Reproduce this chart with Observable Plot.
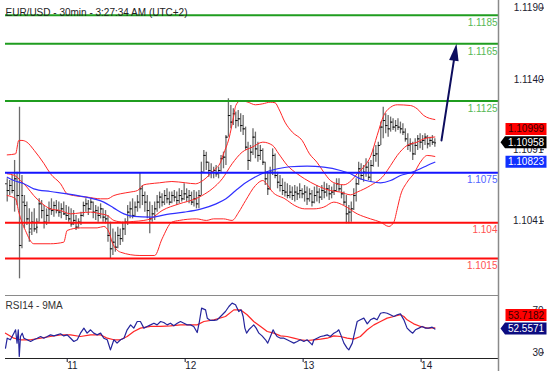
<!DOCTYPE html>
<html><head><meta charset="utf-8">
<script src="https://cdn.jsdelivr.net/npm/d3@7"></script>
<script src="https://cdn.jsdelivr.net/npm/@observablehq/plot@0.6"></script>
<style>
html,body{margin:0;padding:0;background:#fff;}
#chart{position:relative;width:554px;height:371px;overflow:hidden;font-family:"Liberation Sans",Arial,sans-serif;}
#chart svg{position:absolute;left:0;overflow:visible;}
</style></head><body><div id="chart"></div>
<script>
// ---------- DATA ----------
const title = "EUR/USD - 30min - 3:27:34 AM (UTC+2)";
const rsiTitle = "RSI14 - 9MA";
// 30-min bars, index 0 = 10th 12:00 ... 174 = 14th 03:00
const high = [1.10707,1.10695,1.10730,1.10835,1.10753,1.11207,1.10730,1.10590,1.10544,1.10497,
1.10474,1.10497,1.10427,1.10567,1.10555,1.10520,1.10497,1.10544,1.10567,1.10544,
1.10555,1.10544,1.10532,1.10544,1.10520,1.10509,1.10497,1.10485,1.10451,1.10427,
1.10474,1.10544,1.10567,1.10555,1.10567,1.10544,1.10520,1.10509,1.10532,1.10497,
1.10485,1.10451,1.10404,1.10357,1.10334,1.10369,1.10357,1.10404,1.10427,1.10520,
1.10544,1.10567,1.10544,1.10590,1.10749,1.10660,1.10614,1.10590,1.10544,1.10520,
1.10544,1.10590,1.10614,1.10602,1.10625,1.10637,1.10614,1.10614,1.10625,1.10614,
1.10637,1.10625,1.10672,1.10637,1.10625,1.10614,1.10625,1.10614,1.10625,1.10823,
1.10905,1.10893,1.10823,1.10812,1.10788,1.10800,1.10788,1.10870,1.10893,1.11009,
1.11266,1.11219,1.11196,1.11173,1.11184,1.11161,1.11149,1.11068,1.10963,1.10940,
1.11056,1.11033,1.10963,1.10940,1.10916,1.10823,1.10753,1.10788,1.10916,1.10881,
1.10753,1.10730,1.10707,1.10683,1.10672,1.10660,1.10649,1.10660,1.10649,1.10672,
1.10637,1.10660,1.10649,1.10637,1.10625,1.10649,1.10660,1.10637,1.10660,1.10683,
1.10672,1.10660,1.10649,1.10672,1.10707,1.10707,1.10660,1.10614,1.10590,1.10520,
1.10544,1.10637,1.10707,1.10823,1.10812,1.10800,1.10847,1.10823,1.10835,1.10916,
1.10940,1.10963,1.11103,1.11207,1.11161,1.11149,1.11138,1.11126,1.11114,1.11126,
1.11103,1.11091,1.11056,1.11021,1.10986,1.10963,1.10986,1.11009,1.11021,1.11009,
1.11021,1.11009,1.10998,1.11009,1.10986];
const low = [1.10544,1.10590,1.10602,1.10474,1.10520,1.10008,1.10218,1.10357,1.10381,1.10264,
1.10311,1.10334,1.10323,1.10404,1.10427,1.10357,1.10381,1.10404,1.10451,1.10439,
1.10462,1.10439,1.10427,1.10451,1.10416,1.10404,1.10369,1.10381,1.10346,1.10357,
1.10381,1.10439,1.10474,1.10451,1.10485,1.10427,1.10416,1.10404,1.10427,1.10404,
1.10392,1.10264,1.10148,1.10171,1.10194,1.10218,1.10241,1.10264,1.10311,1.10381,
1.10427,1.10427,1.10439,1.10474,1.10497,1.10520,1.10474,1.10427,1.10323,1.10404,
1.10416,1.10474,1.10497,1.10509,1.10520,1.10532,1.10520,1.10532,1.10544,1.10520,
1.10532,1.10544,1.10555,1.10544,1.10532,1.10520,1.10509,1.10497,1.10497,1.10590,
1.10753,1.10765,1.10718,1.10707,1.10707,1.10718,1.10707,1.10753,1.10777,1.10800,
1.10998,1.11056,1.11079,1.11056,1.11068,1.11033,1.11009,1.10905,1.10765,1.10823,
1.10870,1.10847,1.10823,1.10835,1.10800,1.10660,1.10590,1.10625,1.10730,1.10707,
1.10637,1.10614,1.10590,1.10579,1.10567,1.10567,1.10555,1.10544,1.10555,1.10567,
1.10567,1.10544,1.10520,1.10544,1.10509,1.10532,1.10544,1.10532,1.10555,1.10567,
1.10579,1.10555,1.10567,1.10590,1.10614,1.10614,1.10567,1.10520,1.10392,1.10392,
1.10404,1.10485,1.10544,1.10660,1.10695,1.10683,1.10718,1.10695,1.10683,1.10788,
1.10823,1.10788,1.10940,1.10986,1.11021,1.10998,1.11033,1.11044,1.11033,1.11044,
1.11021,1.11009,1.10963,1.10905,1.10893,1.10835,1.10870,1.10905,1.10916,1.10905,
1.10940,1.10916,1.10928,1.10940,1.10928];
const open = [1.10672,1.10625,1.10660,1.10625,1.10707,1.10590,1.10241,1.10544,1.10520,1.10427,
1.10357,1.10404,1.10357,1.10404,1.10532,1.10485,1.10404,1.10451,1.10497,1.10485,
1.10520,1.10485,1.10474,1.10497,1.10462,1.10451,1.10427,1.10392,1.10416,1.10369,
1.10404,1.10451,1.10520,1.10532,1.10497,1.10544,1.10474,1.10485,1.10451,1.10497,
1.10439,1.10427,1.10311,1.10218,1.10264,1.10229,1.10311,1.10289,1.10357,1.10404,
1.10474,1.10497,1.10451,1.10509,1.10544,1.10637,1.10590,1.10544,1.10485,1.10427,
1.10462,1.10497,1.10544,1.10579,1.10544,1.10590,1.10567,1.10544,1.10590,1.10579,
1.10555,1.10590,1.10567,1.10602,1.10579,1.10590,1.10544,1.10567,1.10532,1.10590,
1.10753,1.10870,1.10823,1.10765,1.10753,1.10765,1.10742,1.10765,1.10847,1.10858,
1.10998,1.11149,1.11103,1.11161,1.11114,1.11126,1.11079,1.11056,1.10928,1.10835,
1.10893,1.10998,1.10916,1.10870,1.10905,1.10823,1.10707,1.10637,1.10753,1.10870,
1.10730,1.10683,1.10660,1.10625,1.10614,1.10590,1.10614,1.10590,1.10614,1.10602,
1.10625,1.10602,1.10614,1.10567,1.10602,1.10544,1.10590,1.10614,1.10579,1.10625,
1.10614,1.10637,1.10602,1.10614,1.10625,1.10672,1.10637,1.10602,1.10544,1.10462,
1.10474,1.10497,1.10590,1.10672,1.10777,1.10730,1.10753,1.10788,1.10718,1.10800,
1.10870,1.10881,1.10940,1.11068,1.11114,1.11079,1.11056,1.11103,1.11068,1.11079,
1.11068,1.11056,1.11033,1.10986,1.10940,1.10951,1.10881,1.10940,1.10986,1.10963,
1.10975,1.10998,1.10951,1.10975,1.10963];
const close = [1.10625,1.10660,1.10625,1.10707,1.10590,1.10241,1.10590,1.10520,1.10427,1.10334,
1.10404,1.10357,1.10369,1.10532,1.10485,1.10404,1.10451,1.10497,1.10485,1.10520,
1.10485,1.10474,1.10497,1.10462,1.10451,1.10427,1.10392,1.10416,1.10369,1.10404,
1.10451,1.10520,1.10532,1.10497,1.10544,1.10474,1.10485,1.10451,1.10497,1.10439,
1.10427,1.10311,1.10218,1.10264,1.10229,1.10311,1.10289,1.10357,1.10404,1.10474,
1.10497,1.10451,1.10509,1.10544,1.10637,1.10590,1.10544,1.10485,1.10427,1.10462,
1.10497,1.10544,1.10579,1.10544,1.10590,1.10567,1.10544,1.10590,1.10579,1.10555,
1.10590,1.10567,1.10602,1.10579,1.10590,1.10544,1.10567,1.10532,1.10590,1.10753,
1.10870,1.10823,1.10765,1.10753,1.10765,1.10742,1.10765,1.10847,1.10858,1.10998,
1.11149,1.11103,1.11161,1.11114,1.11126,1.11079,1.11056,1.10928,1.10835,1.10893,
1.10998,1.10916,1.10870,1.10905,1.10823,1.10707,1.10637,1.10753,1.10870,1.10730,
1.10683,1.10660,1.10625,1.10614,1.10590,1.10614,1.10590,1.10614,1.10602,1.10625,
1.10602,1.10614,1.10567,1.10602,1.10544,1.10590,1.10614,1.10579,1.10625,1.10614,
1.10637,1.10602,1.10614,1.10625,1.10672,1.10637,1.10602,1.10544,1.10462,1.10474,
1.10497,1.10590,1.10672,1.10777,1.10730,1.10753,1.10788,1.10718,1.10800,1.10870,
1.10881,1.10940,1.11068,1.11114,1.11079,1.11056,1.11103,1.11068,1.11079,1.11068,
1.11056,1.11033,1.10986,1.10940,1.10951,1.10881,1.10940,1.10986,1.10963,1.10975,
1.10998,1.10951,1.10975,1.10963,1.10958];

// Bollinger bands and moving average as [bar index, price]
const upperBand = [[0,1.10874],[3.4,1.10881],[4.7,1.10975],[6,1.10975],[8,1.10963],[11,1.10905],[15,1.10812],[17.6,1.10742],[21.7,1.10672],[24.4,1.10602],[27,1.10590],[32.5,1.10579],[38,1.10567],[40.7,1.10567],[43.4,1.10590],[46,1.10602],[50,1.10614],[53,1.10625],[55.6,1.10665],[58,1.10672],[62,1.10679],[67,1.10688],[72.5,1.10679],[76.6,1.10672],[79,1.10688],[82,1.10730],[84,1.10765],[86.8,1.10823],[88,1.10881],[90.2,1.10986],[92.2,1.11149],[93,1.11219],[95,1.11254],[98,1.11242],[101,1.11224],[104,1.11231],[107,1.11242],[109,1.11238],[110.5,1.11196],[113,1.11103],[116,1.11033],[120,1.10975],[123,1.10881],[126,1.10823],[128.8,1.10753],[131.5,1.10695],[134.2,1.10672],[137,1.10665],[140,1.10695],[142.4,1.10742],[145,1.10788],[148,1.10870],[150.5,1.11009],[153.2,1.11149],[156,1.11207],[158.7,1.11224],[164,1.11219],[166.8,1.11196],[169.5,1.11149],[174,1.11121]];
const middleBand = [[0,1.10742],[3,1.10730],[5.4,1.10695],[8,1.10649],[10.8,1.10590],[13.5,1.10544],[17.6,1.10497],[21.7,1.10485],[25.8,1.10462],[29.8,1.10469],[33.9,1.10474],[38,1.10462],[40.7,1.10451],[43.4,1.10416],[47.5,1.10404],[51.5,1.10409],[55.6,1.10416],[58.3,1.10427],[63,1.10485],[70,1.10532],[76.6,1.10567],[79.3,1.10590],[83.4,1.10637],[87.5,1.10707],[91.5,1.10812],[95.6,1.10893],[99.7,1.10928],[104,1.10963],[108,1.10940],[110.5,1.10881],[114,1.10800],[118,1.10742],[121,1.10707],[126,1.10660],[131.5,1.10625],[135.6,1.10614],[139.7,1.10595],[142.4,1.10614],[147.8,1.10660],[153.2,1.10730],[156,1.10800],[158.7,1.10870],[162.7,1.10940],[166.8,1.10963],[169.5,1.10986],[174,1.10999]];
const lowerBand = [[0,1.10590],[3.4,1.10567],[4.7,1.10474],[7.4,1.10346],[10.8,1.10253],[17.6,1.10253],[23,1.10264],[24.4,1.10346],[29.8,1.10364],[36.6,1.10364],[39.3,1.10374],[41.4,1.10334],[42.7,1.10264],[46.1,1.10194],[54,1.10171],[60,1.10171],[63,1.10287],[67,1.10404],[70,1.10416],[77,1.10427],[81,1.10416],[84,1.10427],[88,1.10427],[91.5,1.10416],[94.2,1.10474],[97,1.10555],[101,1.10660],[104,1.10695],[105.5,1.10672],[108,1.10614],[113,1.10567],[117,1.10520],[121,1.10497],[124.8,1.10497],[128.8,1.10509],[132.9,1.10544],[137,1.10520],[142.4,1.10462],[147.8,1.10427],[151.9,1.10404],[155.3,1.10374],[157.3,1.10404],[158.7,1.10497],[160,1.10590],[162.7,1.10683],[165.4,1.10742],[168.1,1.10823],[170.9,1.10870],[174,1.10863]];
const movingAvg = [[0,1.10718],[2.7,1.10695],[6.8,1.10672],[10.8,1.10637],[17.6,1.10618],[24.4,1.10602],[29.8,1.10586],[35.2,1.10567],[39.3,1.10544],[43.4,1.10502],[47.5,1.10462],[51.5,1.10444],[58.3,1.10439],[65,1.10458],[72,1.10474],[79,1.10497],[85,1.10532],[89,1.10567],[93,1.10625],[97,1.10679],[100,1.10711],[105,1.10753],[110,1.10777],[115,1.10791],[122,1.10795],[128.8,1.10788],[135.6,1.10765],[139.7,1.10742],[143.7,1.10707],[147.8,1.10688],[151.9,1.10679],[156,1.10695],[160,1.10730],[164.1,1.10749],[168.1,1.10777],[170.9,1.10800],[174,1.10823]];

// horizontal levels
const levelValues = [1.1185, 1.1165, 1.1125, 1.1075, 1.104, 1.1015];
const levelLabels = ["1.1185", "1.1165", "1.1125", "1.1075", "1.104", "1.1015"];
const levelKinds = ["resistance", "resistance", "resistance", "pivot", "support", "support"];

// projection arrow [bar index, price]
const arrowFrom = [176.7, 1.10975];
const arrowTo = [182.8, 1.1165];

// axis ticks
const priceTicks = [1.1041, 1.1091, 1.1140, 1.1190];
const dayTickIdx = [24, 72, 120, 168];
const dayLabels = ["11", "12", "13", "14"];
const rsiTicks = [30, 70];

// current values (right-hand tags)
const lastClose = 1.10958, lastMiddle = 1.10999, lastMA = 1.10823;
const lastRsi = 52.5571, lastRsiMa = 53.7182;

// RSI14 and its 9MA, [bar index, value]
const rsiLine = [[-0.7,34.4],[0,43.9],[1.3,42.4],[2.7,48.7],[3.4,51.9],[4.0,39.2],[4.5,51.9],[4.9,26.5],[5.4,45.5],[6.1,48.7],[6.8,43.9],[8.1,42.4],[9.5,40.8],[10.8,42.4],[12.2,43.9],[13.6,45.5],[14.9,43.9],[16.3,45.5],[17.6,47.1],[19.0,46.1],[20.3,47.1],[21.7,48.1],[23.0,46.1],[24.4,47.1],[25.8,43.9],[27.1,40.8],[28.5,42.4],[29.8,48.7],[31.2,53.5],[32.5,48.7],[33.9,51.9],[35.2,48.7],[36.6,47.1],[38.0,48.7],[39.3,43.9],[40.7,42.4],[42.0,32.8],[43.4,42.4],[44.7,39.2],[46.1,42.4],[47.5,43.9],[48.8,51.9],[50.2,56.6],[51.5,53.5],[52.9,59.8],[54.2,59.8],[55.6,53.5],[56.9,55.1],[58.3,56.6],[59.7,58.2],[61.0,56.6],[62.4,59.8],[63.7,58.9],[65.1,56.6],[66.4,58.2],[67.8,55.7],[69.2,58.2],[70.5,59.8],[71.9,58.2],[73.2,56.6],[74.6,56.6],[75.9,55.1],[77.3,49.3],[78.2,59.8],[79.1,72.5],[80.7,70.9],[81.4,63.0],[82.7,60.8],[84.1,60.8],[85.4,61.4],[86.8,64.6],[88.1,67.7],[88.8,69.3],[90.2,74.1],[91.5,77.3],[92.9,75.7],[94.2,69.3],[95.2,70.9],[96.0,64.6],[96.7,53.5],[97.4,48.7],[98.3,51.9],[99.7,55.1],[100.3,56.6],[101.3,53.5],[102.4,48.7],[103.7,46.1],[105.1,42.4],[106.0,39.2],[107.1,45.5],[108.2,51.9],[108.9,48.7],[109.8,45.5],[111.2,43.9],[112.6,43.9],[113.9,42.4],[115.3,40.8],[116.6,39.2],[118.0,40.8],[119.3,42.4],[120.7,40.8],[122.0,42.4],[123.4,39.2],[124.1,37.6],[124.8,42.4],[126.1,43.9],[127.5,45.5],[128.8,46.1],[130.2,47.1],[131.5,45.5],[132.9,48.7],[134.2,50.3],[134.9,51.9],[135.9,46.1],[137.0,39.2],[138.3,34.4],[139.0,32.8],[140.4,39.2],[141.3,48.7],[142.4,59.8],[143.7,61.4],[145.1,63.0],[146.5,57.6],[147.8,61.4],[149.2,63.0],[150.5,61.4],[151.9,67.7],[153.2,68.4],[154.6,67.7],[155.9,66.2],[157.3,64.6],[158.7,66.2],[160.0,67.1],[161.4,61.4],[162.7,53.5],[164.1,50.3],[165.0,48.7],[166.1,51.9],[167.5,53.5],[168.8,55.1],[170.2,53.5],[171.5,53.5],[172.9,54.4],[174.0,52.56]];
const rsiMaLine = [[-0.7,48.7],[2.7,43.9],[5.4,42.4],[9.5,42.4],[13.6,43.9],[17.6,45.5],[21.7,47.1],[25.8,47.1],[29.8,45.5],[33.9,47.1],[38.0,47.1],[40.7,43.9],[43.4,42.4],[46.1,42.4],[48.8,45.5],[51.5,50.3],[54.2,53.5],[58.3,55.1],[62.4,55.1],[66.4,55.7],[70.5,56.6],[74.6,56.6],[77.3,56.6],[80.0,59.8],[84.1,61.4],[88.8,64.6],[92.2,70.9],[94.9,70.9],[97.6,66.2],[100.3,59.8],[103.1,55.1],[105.8,50.3],[108.5,48.7],[111.2,46.1],[113.9,45.5],[116.6,43.9],[119.3,42.4],[122.0,41.7],[124.8,42.4],[127.5,43.0],[130.2,43.9],[132.9,46.1],[135.6,45.5],[138.3,43.9],[141.0,43.0],[143.7,45.5],[146.5,51.9],[149.2,56.6],[151.9,59.8],[154.6,63.0],[157.3,64.6],[160.0,66.2],[161.4,64.6],[162.7,61.4],[165.4,57.6],[168.2,55.1],[170.9,53.5],[174.0,53.72]];

// ---------- LAYOUT / STYLE ----------
const FONT = "'Liberation Sans', Arial, sans-serif";
const xDomain = [-0.7, 199.9];
const priceDomain = [1.098985, 1.119527];
const rsiDomain = [24.57, 84.57];
const levelStyle = {
  resistance: {line: "#1f9d1f", text: "#55b855"},
  pivot: {line: "#1414ff", text: "#4f63ff"},
  support: {line: "#ff0d0d", text: "#ff5252"}
};
const fmt4 = d3.format(".4f"), fmt5 = d3.format(".5f");

const bars = close.map((c, i) => ({i, o: open[i], h: high[i], l: low[i], c}));
const levelRows = levelValues.map((v, k) => ({v, label: levelLabels[k], kind: levelKinds[k]}));
const arrowRow = [{x1: arrowFrom[0], y1: arrowFrom[1], x2: arrowTo[0], y2: arrowTo[1]}];

const arrowHead = {draw(ctx) { ctx.moveTo(0, 0); ctx.lineTo(4.8, 17); ctx.lineTo(-4.8, 17); ctx.closePath(); }};

function tagMark(tags) {
  return (index, scales, values, dims) => {
    const g = d3.create("svg:g").attr("font-size", 10).attr("font-family", FONT);
    const x0 = dims.width - dims.marginRight;
    for (const t of tags) {
      const yc = scales.y(t.value) + t.shift;
      const L = x0 + 7.5, R = x0 + 48.5, h = 6;
      const d = t.pointer
        ? `M${x0 + 2.5},${yc}L${L - 0.5},${yc - h}H${R}V${yc + h}H${L - 0.5}Z`
        : `M${L},${yc - h}H${R}V${yc + h}H${L}Z`;
      g.append("path").attr("d", d).attr("fill", t.fill);
      g.append("text").attr("x", (L + R) / 2).attr("y", yc).attr("dy", "0.36em")
        .attr("text-anchor", "middle").attr("fill", t.color).text(t.format(t.value));
    }
    return g.node();
  };
}

const levelMarks = Object.keys(levelStyle).flatMap(kind => {
  const rows = levelRows.filter(d => d.kind === kind);
  return [
    Plot.ruleY(rows, {y: "v", stroke: levelStyle[kind].line, strokeWidth: 2}),
    Plot.text(rows, {y: "v", text: "label", frameAnchor: "right", textAnchor: "end", dy: 7.5, dx: -1, fill: levelStyle[kind].text, fontSize: 10})
  ];
});

const pricePlot = Plot.plot({
  width: 554, height: 294,
  marginLeft: 5, marginRight: 56, marginTop: 0, marginBottom: 0,
  x: {domain: xDomain, axis: null},
  y: {domain: priceDomain, axis: null},
  style: {fontFamily: FONT, fontSize: "10px", background: "transparent", overflow: "visible"},
  marks: [
    Plot.ruleX(bars, {x: "i", y1: "l", y2: "h", stroke: "#6c6c6c", strokeWidth: 1.3}),
    Plot.ruleY(bars, {y: "o", x1: d => d.i - 0.65, x2: "i", stroke: "#111", strokeWidth: 1}),
    Plot.ruleY(bars, {y: "c", x1: "i", x2: d => d.i + 0.65, stroke: "#111", strokeWidth: 1}),
    Plot.line(upperBand, {x: d => d[0], y: d => d[1], stroke: "#ff2626", strokeWidth: 1, curve: "monotone-x"}),
    Plot.line(middleBand, {x: d => d[0], y: d => d[1], stroke: "#ff2626", strokeWidth: 1, curve: "monotone-x"}),
    Plot.line(lowerBand, {x: d => d[0], y: d => d[1], stroke: "#ff2626", strokeWidth: 1, curve: "monotone-x"}),
    Plot.line(movingAvg, {x: d => d[0], y: d => d[1], stroke: "#3030ff", strokeWidth: 1.2, curve: "monotone-x"}),
    ...levelMarks,
    Plot.arrow(arrowRow, {x1: "x1", y1: "y1", x2: "x2", y2: "y2", stroke: "#0d0d5e", strokeWidth: 2, headLength: 0, insetEnd: 9}),
    Plot.dot(arrowRow, {x: "x2", y: "y2", symbol: arrowHead, r: 5, fill: "#0d0d5e", stroke: null, rotate: 8.8}),
    Plot.ruleX([xDomain[1]], {stroke: "#8a8a8a", strokeWidth: 1.5}),
    Plot.axisY(priceTicks, {anchor: "right", tickSize: 4, tickPadding: 0, tickFormat: fmt4, textAnchor: "end", dx: 41, color: "#1c1c30", fontSize: 10}),
    tagMark([
      {value: lastMiddle, shift: -7.6, fill: "#ff0000", color: "#3a0000", format: fmt5},
      {value: lastClose, shift: 0, fill: "#000000", color: "#ffffff", pointer: true, format: fmt5},
      {value: lastMA, shift: 0, fill: "#1030ff", color: "#ffffff", format: fmt5}
    ]),
    Plot.text([title], {frameAnchor: "top-left", dy: 8, textAnchor: "start", fill: "#222", fontSize: 10})
  ]
});
pricePlot.style.top = "0px";

const rsiPlot = Plot.plot({
  width: 554, height: 77,
  marginLeft: 5, marginRight: 56, marginTop: 1, marginBottom: 13,
  x: {domain: xDomain, axis: null},
  y: {domain: rsiDomain, axis: null},
  style: {fontFamily: FONT, fontSize: "10px", background: "transparent", overflow: "visible"},
  marks: [
    Plot.ruleY([rsiDomain[1]], {stroke: "#8a8a8a", strokeWidth: 1}),
    Plot.ruleY([rsiDomain[0]], {stroke: "#222", strokeWidth: 1}),
    Plot.line(rsiMaLine, {x: d => d[0], y: d => d[1], stroke: "#ff2626", strokeWidth: 1.2}),
    Plot.line(rsiLine, {x: d => d[0], y: d => d[1], stroke: "#25259c", strokeWidth: 1.2}),
    Plot.ruleX([xDomain[1]], {stroke: "#8a8a8a", strokeWidth: 1.5, insetTop: -1, insetBottom: -13}),
    Plot.axisY(rsiTicks, {anchor: "right", tickSize: 4, tickPadding: 0, textAnchor: "end", dx: 41, color: "#1c1c30", fontSize: 10}),
    Plot.axisX(dayTickIdx, {anchor: "bottom", tickSize: 4, tickPadding: -1, tickFormat: d => dayLabels[dayTickIdx.indexOf(d)], textAnchor: "start", dx: 1, color: "#1c1c30", fontSize: 10}),
    tagMark([
      {value: lastRsiMa, shift: -12.4, fill: "#ff0000", color: "#3a0000", format: d3.format(".4f")},
      {value: lastRsi, shift: 0, fill: "#0c0c80", color: "#ffffff", pointer: true, format: d3.format(".4f")}
    ]),
    Plot.text([rsiTitle], {frameAnchor: "top-left", dy: 6.5, textAnchor: "start", fill: "#333", fontSize: 10})
  ]
});
rsiPlot.style.top = "294px";

const chart = document.getElementById("chart");
chart.append(pricePlot, rsiPlot);
</script></body></html>
